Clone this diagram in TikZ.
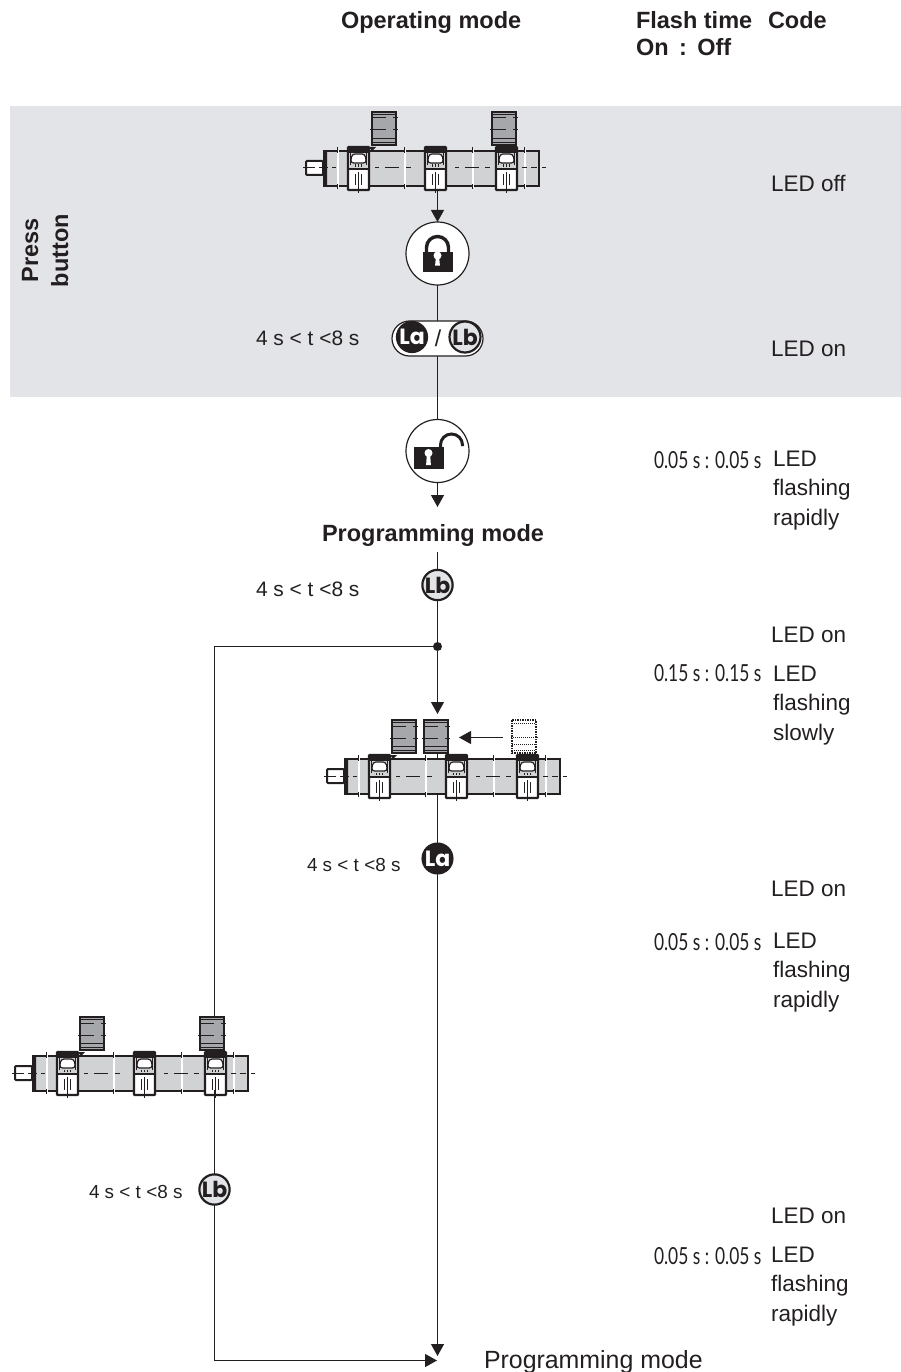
\documentclass[tikz,border=0pt]{standalone}
\usepackage{fontspec}
\setmainfont{Liberation Sans}
\newfontfamily\narrowfont[FakeStretch=0.74]{Lato}
\newfontfamily\badgefont{Poppins}
\usetikzlibrary{arrows.meta}
\definecolor{band}{HTML}{E3E4E8}
\definecolor{ink}{HTML}{231F20}
\definecolor{bodygray}{HTML}{D1D2D4}
\definecolor{maggray}{HTML}{A5A7AA}
\tikzset{
  x=1pt,y=-1pt,
  every node/.style={inner sep=0pt,outer sep=0pt,text=ink},
  lbl/.style={anchor=base west,font=\fontsize{22.5}{27}\selectfont},
  lblstack/.style={anchor=north west,align=left,font=\fontsize{22.5}{29.3}\selectfont},
  lblhead/.style={anchor=base west,font=\fontsize{23.5}{27}\selectfont\bfseries},
  sidehead/.style={anchor=base,rotate=90,font=\fontsize{23.5}{27}\selectfont\bfseries},
  timing/.style={anchor=base west,font=\fontsize{20.9}{24}\selectfont},
  timingsmall/.style={anchor=base west,font=\fontsize{18.9}{24}\selectfont},
  flash/.style={anchor=base west,font=\narrowfont\fontsize{23.5}{26}\selectfont},
  conn/.style={draw=ink,line width=1.2pt},
  arr/.style={conn,-{Triangle[length=12pt,width=13pt]}},
  symb/.style={circle,draw=ink,fill=white,line width=1.2pt,minimum size=63pt},
  badge/.style={circle,draw=ink,line width=2.2pt,minimum size=29.5pt,fill=band,text=ink,
    font=\badgefont\bfseries\fontsize{22}{22}\selectfont},
  badgea/.style={badge,fill=ink,text=white},
  magnet/.pic={
    \fill[maggray,draw=ink,line width=2pt] (0,0) rectangle (24,33);
    \draw[ink,line width=.9pt] (0,26) -- (24,26) (0,30) -- (24,30);
    \draw[ink,line width=1pt] (-1,6) -- (14,6) (21,6) -- (26,6) (-2,18) -- (14,18) (21,18) -- (26,18);
    \draw[ink,line width=1pt] (0,2.5) -- (24,2.5);
  },
  ghostmagnet/.pic={
    \draw[ink,line width=1.5pt,densely dotted] (0,0) rectangle (24,33);
    \draw[ink,line width=1pt,densely dotted] (0,3) -- (24,3) (-1,17) -- (26,17) (0,24) -- (24,24) (0,30) -- (24,30);
  },
  sensorbox/.pic={
    \fill[white,draw=ink,line width=2.2pt,rounded corners=.6pt] (0,0) rectangle (21,43);
    \fill[bodygray] (1,6) rectangle (20,21);
    \fill[ink] (0,0) rectangle (21,6);
    \fill[white,draw=ink,line width=1.2pt,rounded corners=3pt] (4,7) -- (17,7) -- (18.5,16) -- (2.5,16) -- cycle;
    \draw[ink,line width=1.2pt] (2.5,5) -- (2.5,18) (18.5,5) -- (18.5,18);
    \fill[ink] (0,21) rectangle (21,23.4);
    \draw[ink,line width=.9pt] (7.5,17.5) -- (7.5,20) (10.5,17.5) -- (10.5,20) (13.5,17.5) -- (13.5,20);
    \draw[ink,line width=.9pt] (7.5,27) -- (7.5,38) (13.5,27) -- (13.5,38) (10.5,25) -- (10.5,46);
  },
  cylinder/.pic={
    \draw[ink,line width=2pt,fill=white,rounded corners=1pt] (0,-7) rectangle (-17,7);
    \fill[bodygray,draw=ink,line width=2pt] (1,-17) rectangle (216,18);
    \fill[ink,rounded corners=1.5pt] (0,-17.5) rectangle (4,18.5);
    \foreach \s in {15,82,150,202} {
      \draw[white,line width=1.3pt] (\s,-18.2) -- (\s,19.2);
      \draw[ink,line width=.9pt] (\s-1,-21) -- (\s-1,-15) (\s-1,16) -- (\s-1,21);
    }
    \draw[ink,line width=1pt] (-20,0) -- (-8,0) (-4,0) -- (5,0) (9,0) -- (13,0) (52,0) -- (56,0)
      (62,0) -- (76,0) (83,0) -- (88,0) (132,0) -- (136,0) (142,0) -- (156,0) (162,0) -- (167,0)
      (199,0) -- (204,0) (208,0) -- (214,0) (219,0) -- (223,0);
    \pic at (25,-21) {sensorbox};
    \pic at (102,-21) {sensorbox};
    \pic at (173,-21) {sensorbox};
    \fill[ink] (46,-21) -- (53,-21) -- (49,-17) -- cycle;
  },
}
\begin{document}
\begin{tikzpicture}
\useasboundingbox (0,0) rectangle (901,1372);
\fill[band] (10,106) rectangle (901,397);

% headers
\node[lblhead] (hOp) at (341,28.5) {Operating mode};
\node[lblhead] (hFlash) at (636,28.5) {Flash time};
\node[lblhead] (hCode) at (768,28.5) {Code};
\node[lblhead] (hOn) at (636,56) {On\ \,:\ \,Off};
\node[sidehead] (press) at (38,250.5) {Press};
\node[sidehead] (button) at (68,250.5) {button};

% connectors anchors
\coordinate (devA) at (437.5,190);
\coordinate (dot) at (437.5,646.5);
\coordinate (bend) at (214.5,646.5);
\coordinate (magC) at (214.5,1030);
\coordinate (corner) at (214.5,1360.5);
\coordinate (tipR) at (437,1360.5);
\coordinate (tipD) at (437.5,1356);
\coordinate (devBtop) at (437.5,714);
\coordinate (devBmid) at (437.5,753);
\coordinate (ghostL) at (503,737.5);
\coordinate (ghostT) at (459,737.5);
\coordinate (devCbot) at (214.5,1095);
\coordinate (progTop) at (437.5,552);
\coordinate (lockBtip) at (437.5,507);

% nodes
\node[symb] (lockA) at (437.5,253.5) {};
\node[symb] (lockB) at (437.5,451) {};
\node[draw=ink,fill=white,line width=1.2pt,rounded corners=17.5pt,minimum width=91pt,minimum height=35pt] (pill) at (437.5,338.5) {};
\node (progA) [lblhead,anchor=base] at (433,541.5) {Programming mode};
\node[badge] (lbB) at (437.5,585) {Lb};
\node[badgea] (laB) at (437.5,858.5) {La};
\node[badge] (lbC) at (214.5,1189.5) {Lb};

% lines under devices and symbols
\draw[conn] (pill.south) -- (lockB.north);
\draw[conn] (lockA.south) -- (pill.north);
\draw[arr] (devA) -- (lockA.north);
\draw[arr] (lockB.south) -- (lockBtip);
\draw[conn] (progTop) -- (lbB.north);
\draw[conn] (lbB.south) -- (dot);
\fill[ink] (dot) circle (4.5pt);
\draw[arr] (dot) -- (devBtop);
\draw[conn] (dot) -- (bend) -- (magC);
\draw[conn] (devBmid) -- (laB.north);
\draw[arr] (laB.south) -- (tipD);
\draw[conn] (devCbot) -- (lbC.north);
\draw[arr] (lbC.south) -- (corner) -- (tipR);
\draw[arr] (ghostL) -- (ghostT);

% devices
\pic at (323,168) {cylinder};
\pic at (372,112) {magnet};
\pic at (492,112) {magnet};
\pic at (344,776) {cylinder};
\pic at (392,720) {magnet};
\pic at (424,720) {magnet};
\pic at (512,720) {ghostmagnet};
\pic at (32,1073) {cylinder};
\pic at (80,1017) {magnet};
\pic at (200,1017) {magnet};
\draw[conn] (437.5,753) -- (437.5,758);
\draw[conn] (214.5,1090) -- (214.5,1100);

% locks
\begin{scope}[shift={(lockA.center)}]
  \draw[ink,line width=3.4pt] (-11,0) -- (-11,-6) arc[start angle=180,end angle=360,radius=11] -- (11,0);
  \fill[ink] (-15,-2) rectangle (15,18);
  \fill[white] (0,2) circle (4);
  \fill[white] (-1.6,3) -- (1.6,3) -- (2.4,12) -- (-2.4,12) -- cycle;
\end{scope}
\begin{scope}[shift={(lockB.center)}]
  \draw[ink,line width=3pt] (3,-3) -- (3,-6) arc[start angle=180,end angle=360,radius=11] -- (25,-5);
  \fill[ink] (-24,-4) rectangle (6,18);
  \fill[white] (-9,2) circle (4);
  \fill[white] (-10.6,3) -- (-7.4,3) -- (-6.6,14) -- (-11.4,14) -- cycle;
\end{scope}

% pill content
\node[badgea,minimum size=30pt] (laP) at (412,337) {La};
\node[badge,minimum size=31pt] (lbP) at (465,337) {Lb};
\node[anchor=center,font=\fontsize{23}{24}\selectfont] (slashP) at (438,338) {/};

% timings
\node[timing] (t1) at (256,345) {4 s < t <8 s};
\node[timing] (t2) at (256,596) {4 s < t <8 s};
\node[timingsmall] (t3) at (307,871) {4 s < t <8 s};
\node[timingsmall] (t4) at (89,1198) {4 s < t <8 s};

% right column
\node[lbl] (c1) at (771,192) {LED off};
\node[lbl] (c2) at (771,356) {LED on};
\node[flash] (f1) at (654,468) {0.05 s : 0.05 s};
\node[lblstack] (c3) at (773,451) {LED\\flashing\\rapidly};
\node[lbl] (c4) at (771,642) {LED on};
\node[flash] (f2) at (654,681) {0.15 s : 0.15 s};
\node[lblstack] (c5) at (773,666) {LED\\flashing\\slowly};
\node[lbl] (c6) at (771,896) {LED on};
\node[flash] (f3) at (654,950) {0.05 s : 0.05 s};
\node[lblstack] (c7) at (773,933) {LED\\flashing\\rapidly};
\node[lbl] (c8) at (771,1223) {LED on};
\node[flash] (f4) at (654,1264) {0.05 s : 0.05 s};
\node[lblstack] (c9) at (771,1247) {LED\\flashing\\rapidly};
\node[anchor=base west,font=\fontsize{24.9}{27}\selectfont] (end) at (484,1368) {Programming mode};
\end{tikzpicture}
\end{document}
